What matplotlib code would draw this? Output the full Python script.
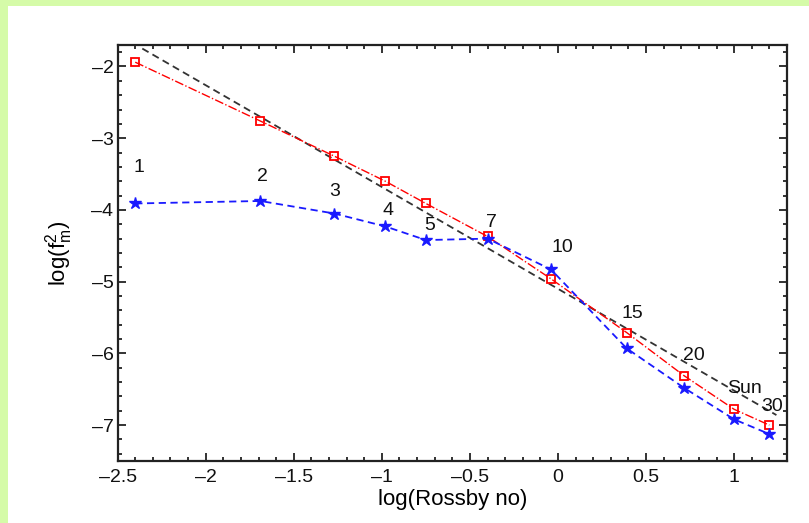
import matplotlib
matplotlib.use("Agg")
import matplotlib.pyplot as plt
from matplotlib.ticker import MultipleLocator, FuncFormatter
from matplotlib.patches import Rectangle

plt.rcParams['font.family'] = ['Liberation Sans', 'DejaVu Sans']
plt.rcParams['mathtext.fontset'] = 'custom'
plt.rcParams['mathtext.rm'] = 'Liberation Sans'
plt.rcParams['mathtext.it'] = 'Liberation Sans'

# Data (log Rossby number, log f_m^2)
labels = ['1', '2', '3', '4', '5', '7', '10', '15', '20', 'Sun', '30']
x_pts = [-2.40, -1.69, -1.27, -0.98, -0.75, -0.40, -0.04, 0.39, 0.715, 1.00, 1.20]
red_y = [-1.94, -2.76, -3.25, -3.60, -3.91, -4.37, -4.96, -5.71, -6.31, -6.78, -7.00]
blue_y = [-3.91, -3.875, -4.05, -4.23, -4.42, -4.40, -4.83, -5.93, -6.48, -6.92, -7.125]
label_x = [-2.38, -1.68, -1.27, -0.965, -0.73, -0.376, 0.023, 0.423, 0.77, 1.057, 1.217]
label_y = [-3.41, -3.53, -3.74, -4.01, -4.22, -4.17, -4.52, -5.45, -6.03, -6.49, -6.74]
fit_x = [-2.36, 1.24]
fit_y = [-1.75, -6.86]

fig = plt.figure(figsize=(8.09, 5.23), dpi=100)
fig.patch.set_facecolor('#d5fba8')
panel = Rectangle((8 / 809, 0), 1 - 8 / 809, 1 - 6 / 523,
                  transform=fig.transFigure, facecolor='white',
                  edgecolor='none', zorder=-10)
fig.add_artist(panel)

ax = fig.add_axes([0.1454, 0.1186, 0.9728 - 0.1454, 0.914 - 0.1186])
ax.set_zorder(1)
ax.set_facecolor('white')

ax.plot(fit_x, fit_y, linestyle=(0, (4, 2.5)), color='#333333', lw=1.3, zorder=2)
ax.plot(x_pts, red_y, linestyle='-.', color='red', lw=1.0, marker='s',
        markersize=6, markerfacecolor='none', markeredgecolor='red',
        markeredgewidth=1.3, zorder=3)
ax.plot(x_pts, blue_y, linestyle=(0, (4, 2.5)), color='#1a1aff', lw=1.3,
        marker='*', markersize=9, markerfacecolor='#1a1aff',
        markeredgecolor='#1a1aff', zorder=4)

for lx, ly, t in zip(label_x, label_y, labels):
    ax.text(lx, ly, t, fontsize=14, ha='center', va='center', color='#111111',
            zorder=5)

ax.set_xlim(-2.5, 1.3)
ax.set_ylim(-7.5, -1.7)
ax.xaxis.set_major_locator(MultipleLocator(0.5))
ax.xaxis.set_minor_locator(MultipleLocator(0.1))
ax.yaxis.set_major_locator(MultipleLocator(1))
ax.yaxis.set_minor_locator(MultipleLocator(0.2))

fmt = FuncFormatter(lambda v, p: ('%g' % v).replace('-', '\u2013'))
ax.xaxis.set_major_formatter(fmt)
ax.yaxis.set_major_formatter(fmt)

ax.tick_params(which='both', direction='in', top=True, right=True,
               labelsize=14, width=1.2, colors='#111111')
ax.tick_params(which='major', length=6)
ax.tick_params(which='minor', length=3)
ax.tick_params(axis='x', which='major', pad=6)
ax.tick_params(axis='y', which='major', pad=3)
for s in ax.spines.values():
    s.set_linewidth(1.6)
    s.set_color('#222222')

ax.set_xlabel('log(Rossby no)', fontsize=16, labelpad=2)
ax.set_ylabel(r'log(f$_{\rm m}^{2}$)', fontsize=16, labelpad=12)

fig.savefig('out.png', dpi=100, facecolor=fig.get_facecolor())
